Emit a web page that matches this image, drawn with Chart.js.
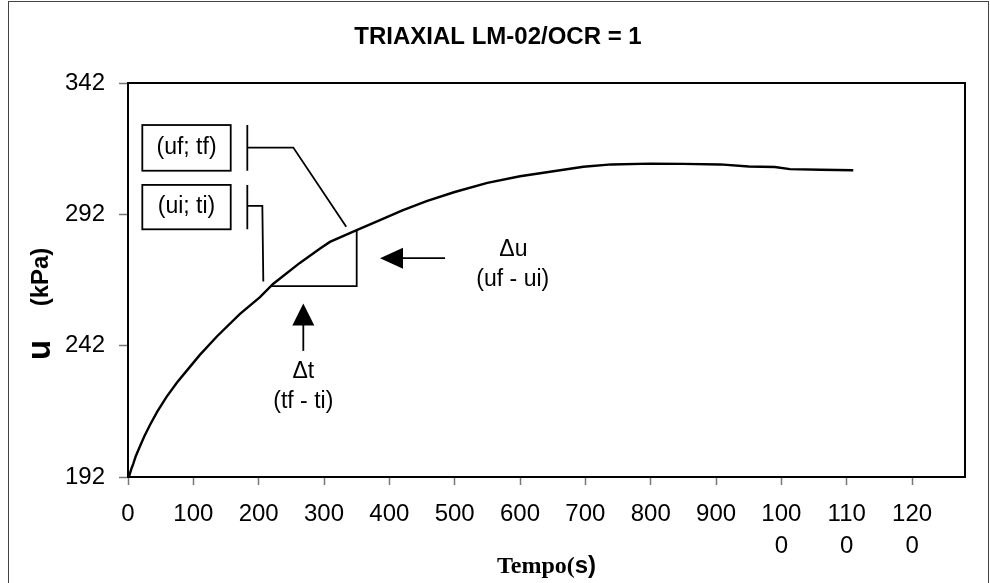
<!DOCTYPE html>
<html>
<head>
<meta charset="utf-8">
<script src="https://cdn.jsdelivr.net/npm/chart.js@4/dist/chart.umd.min.js"></script>
<style>
  html, body { margin: 0; padding: 0; background: #fff; }
  #wrap { width: 990px; height: 583px; }
</style>
</head>
<body>
<div id="wrap"><canvas id="chart" width="990" height="583"></canvas></div>
<script>
// ensaio triaxial LM-02, OCR = 1: poro-pressão u (kPa) x tempo (s)
const tempo = [0, 2, 5, 8, 12, 18, 25, 34, 45, 59, 75, 90, 110, 136, 171, 202, 222, 263, 294, 309,
  350, 383, 420, 457, 500, 550, 600, 646, 697, 740, 800, 850, 906, 950, 990, 1013, 1060, 1110];
const poro = [192, 192.5, 195, 197, 200, 203.5, 207.5, 212, 217, 222.5, 228, 232.5, 238.5, 245.5, 254, 260.5, 265.5, 273.5, 279, 281.5,
  286, 289.5, 293.5, 297, 300.5, 304, 306.5, 308.2, 310.1, 311, 311.3, 311.2, 311, 310.2, 310, 309.2, 309, 308.8];

const xTicks = [0, 100, 200, 300, 400, 500, 600, 700, 800, 900, 1000, 1100, 1200];
const yTicks = [192, 242, 292, 342];
const xMax = 1281;

// pontos (ui; ti) e (uf; tf) usados no cálculo de du/dt
const ptI = { t: 219, u: 264.7 };
const ptF = { t: 350, u: 286 };

const sans = '"Liberation Sans", Arial, sans-serif';
const serif = '"Liberation Serif", "Times New Roman", serif';

const extras = {
  id: 'extras',
  afterDatasetsDraw (chart) {
    const ctx = chart.ctx;
    const xs = chart.scales.x;
    const ys = chart.scales.y;
    const X = (t) => xs.getPixelForValue(t);
    const Y = (u) => ys.getPixelForValue(u);
    const area = chart.chartArea;

    ctx.save();
    ctx.strokeStyle = '#000';
    ctx.fillStyle = '#000';

    // moldura da área do gráfico
    ctx.lineWidth = 2;
    ctx.strokeRect(area.left, area.top, area.right - area.left, area.bottom - area.top);

    // caixas de legenda dos pontos
    ctx.lineWidth = 1.8;
    const boxes = [
      { t0: 21.9, t1: 157.2, u0: 326.0, u1: 308.6, label: '(uf; tf)' },
      { t0: 21.9, t1: 157.2, u0: 303.2, u1: 286.3, label: '(ui; ti)' }
    ];
    ctx.font = '23px ' + sans;
    ctx.textAlign = 'center';
    ctx.textBaseline = 'middle';
    boxes.forEach((b) => {
      const x0 = X(b.t0), x1 = X(b.t1), y0 = Y(b.u0), y1 = Y(b.u1);
      ctx.strokeRect(x0, y0, x1 - x0, y1 - y0);
      ctx.fillText(b.label, (x0 + x1) / 2, (y0 + y1) / 2);
    });

    // chamadas ligando as caixas aos pontos
    const bx = X(182.6);
    ctx.beginPath();
    ctx.moveTo(bx, Y(326.0)); ctx.lineTo(bx, Y(308.6));
    ctx.moveTo(bx, Y(317.4)); ctx.lineTo(X(253), Y(317.4)); ctx.lineTo(X(ptF.t - 16), Y(ptF.u + 1.3));
    ctx.moveTo(bx, Y(303.2)); ctx.lineTo(bx, Y(286.3));
    ctx.moveTo(bx, Y(295.2)); ctx.lineTo(X(205.6), Y(295.2)); ctx.lineTo(X(207.1), Y(266.4));
    ctx.stroke();

    // triângulo delta t / delta u
    ctx.beginPath();
    ctx.moveTo(X(ptI.t), Y(ptI.u));
    ctx.lineTo(X(ptF.t), Y(ptI.u));
    ctx.lineTo(X(ptF.t), Y(ptF.u));
    ctx.stroke();

    // seta para cima (delta t)
    const ax = X(268.3);
    const apex = Y(258.1);
    ctx.beginPath();
    ctx.moveTo(ax, apex + 20); ctx.lineTo(ax, Y(240));
    ctx.stroke();
    ctx.beginPath();
    ctx.moveTo(ax, apex);
    ctx.lineTo(ax - 11, apex + 22);
    ctx.lineTo(ax + 11, apex + 22);
    ctx.closePath();
    ctx.fill();

    // seta para a esquerda (delta u)
    const ay = Y(275.3);
    const tip = X(385.7);
    ctx.beginPath();
    ctx.moveTo(tip + 20, ay); ctx.lineTo(X(485.2), ay);
    ctx.stroke();
    ctx.beginPath();
    ctx.moveTo(tip, ay);
    ctx.lineTo(tip + 23, ay - 10.5);
    ctx.lineTo(tip + 23, ay + 10.5);
    ctx.closePath();
    ctx.fill();

    ctx.font = '23px ' + sans;
    ctx.fillText('\u0394t', ax, Y(232.1));
    ctx.fillText('(tf - ti)', ax, Y(220.7));
    ctx.fillText('\u0394u', X(589.8), Y(278.4));
    ctx.fillText('(uf - ui)', X(588.9), Y(267));

    // título
    ctx.font = 'bold 24px ' + sans;
    ctx.fillText('TRIAXIAL LM-02/OCR = 1', 498, 37);

    // título do eixo x: "Tempo(" com serifa, "s)" sem serifa
    ctx.textAlign = 'left';
    ctx.textBaseline = 'alphabetic';
    const p1 = 'Tempo(';
    const p2 = 's)';
    ctx.font = 'bold 24px ' + serif;
    const w1 = ctx.measureText(p1).width;
    ctx.font = 'bold 24px ' + sans;
    const w2 = ctx.measureText(p2).width;
    const xc = (area.left + area.right) / 2;
    const x0 = xc - (w1 + w2) / 2;
    ctx.font = 'bold 24px ' + serif;
    ctx.fillText(p1, x0, 573);
    ctx.font = 'bold 24px ' + sans;
    ctx.fillText(p2, x0 + w1, 573);

    // título do eixo y
    ctx.textAlign = 'center';
    ctx.save();
    ctx.translate(50, 350);
    ctx.rotate(-Math.PI / 2);
    ctx.font = 'bold 33px ' + sans;
    ctx.fillText('u', 0, 0);
    ctx.restore();
    ctx.save();
    ctx.translate(48, 277);
    ctx.rotate(-Math.PI / 2);
    ctx.font = 'bold 24px ' + sans;
    ctx.fillText('(kPa)', 0, 0);
    ctx.restore();

    // borda externa
    ctx.lineWidth = 1;
    ctx.strokeStyle = '#444';
    ctx.strokeRect(8.5, 1.5, 980, 620);

    ctx.restore();
  }
};

new Chart(document.getElementById('chart'), {
  type: 'scatter',
  data: {
    datasets: [{
      data: tempo.map((t, i) => ({ x: t, y: poro[i] })),
      showLine: true,
      borderColor: '#000',
      borderWidth: 2.4,
      pointRadius: 0,
      tension: 0
    }]
  },
  options: {
    responsive: false,
    animation: false,
    layout: { padding: { top: 83, right: 25, left: 0, bottom: 0 } },
    plugins: {
      legend: { display: false },
      title: { display: false },
      tooltip: { enabled: false }
    },
    scales: {
      x: {
        type: 'linear',
        min: 0,
        max: xMax,
        afterBuildTicks: (s) => { s.ticks = xTicks.map((v) => ({ value: v })); },
        afterFit: (s) => { s.height = 106; },
        border: { display: true, color: '#000', width: 2 },
        grid: { drawOnChartArea: false, drawTicks: true, tickLength: 8, tickColor: '#777', tickWidth: 1.5 },
        ticks: {
          autoSkip: false,
          maxRotation: 0,
          padding: 13,
          color: '#000',
          font: { family: sans, size: 24, lineHeight: 1.35 },
          callback: (v) => {
            const s = String(v);
            return s.length > 3 ? [s.slice(0, 3), s.slice(3)] : s;
          }
        }
      },
      y: {
        type: 'linear',
        min: 192,
        max: 342,
        afterBuildTicks: (s) => { s.ticks = yTicks.map((v) => ({ value: v })); },
        afterFit: (s) => { s.width = 128; },
        border: { display: true, color: '#000', width: 2 },
        grid: { drawOnChartArea: false, drawTicks: true, tickLength: 9, tickColor: '#777', tickWidth: 1.5 },
        ticks: {
          padding: 14,
          color: '#000',
          font: { family: sans, size: 24 }
        }
      }
    }
  },
  plugins: [extras]
});
</script>
</body>
</html>
